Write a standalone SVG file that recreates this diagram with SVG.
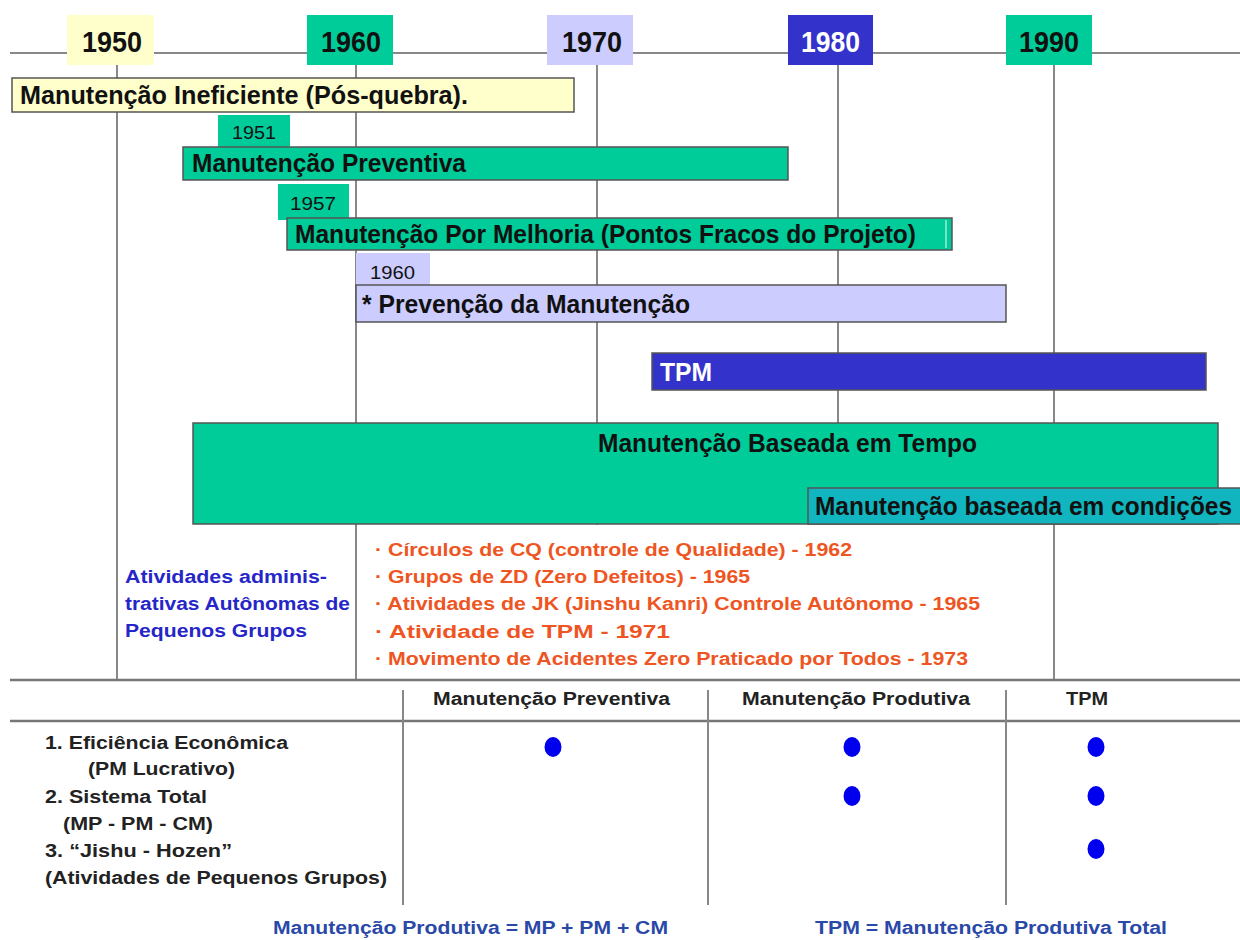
<svg xmlns="http://www.w3.org/2000/svg" width="1240" height="940" viewBox="0 0 1240 940">
  <style>
    text { font-family: "Liberation Sans", Arial, sans-serif; }
    .yr { font-size: 29px; font-weight: bold; fill: #111; }
    .bar { stroke: #555; stroke-width: 1.5; }
    .lbl { font-size: 25px; font-weight: bold; fill: #111; }
    .tab { font-size: 18px; fill: #111; }
    .grid { stroke: #888; stroke-width: 2; fill: none; }
    .rule { stroke: #777; stroke-width: 2.5; }
    .red { font-size: 18px; font-weight: bold; fill: #EE5522; }
    .blue { font-size: 18px; font-weight: bold; fill: #2626C8; }
    .tbl { font-size: 18px; font-weight: bold; fill: #222; }
    .foot { font-size: 18px; font-weight: bold; fill: #2A48A8; }
    .dot { fill: #0000EE; }
    .yellow { fill: #FFFFCC; }
    .green { fill: #00CC99; }
    .lilac { fill: #CCCCFF; }
    .navy { fill: #3333CC; }
    .cyan { fill: #11B5C0; }
  </style>

  <rect width="1240" height="940" fill="#fff"/>

  <!-- timeline axis and decade guide lines -->
  <g id="connectors">
    <line class="grid" x1="10" y1="53" x2="1240" y2="53"/>
    <line class="grid" x1="117" y1="65" x2="117" y2="680"/>
    <line class="grid" x1="356" y1="65" x2="356" y2="680"/>
    <line class="grid" x1="597" y1="65" x2="597" y2="525"/>
    <line class="grid" x1="838" y1="65" x2="838" y2="525"/>
    <line class="grid" x1="1054" y1="65" x2="1054" y2="680"/>
    <line class="rule" x1="10" y1="680" x2="1240" y2="680"/>
    <line class="rule" x1="10" y1="721" x2="1240" y2="721"/>
    <line class="grid" x1="403" y1="690" x2="403" y2="905"/>
    <line class="grid" x1="708" y1="690" x2="708" y2="905"/>
    <line class="grid" x1="1006" y1="690" x2="1006" y2="905"/>
  </g>

  <!-- decade markers -->
  <g id="y1950"><rect class="yellow" x="67" y="15" width="87" height="50"/><text class="yr" x="82" y="52" textLength="60" lengthAdjust="spacingAndGlyphs">1950</text></g>
  <g id="y1960"><rect class="green" x="307" y="15" width="86" height="50"/><text class="yr" x="321" y="52" textLength="60" lengthAdjust="spacingAndGlyphs">1960</text></g>
  <g id="y1970"><rect class="lilac" x="547" y="15" width="86" height="50"/><text class="yr" x="562" y="52" textLength="60" lengthAdjust="spacingAndGlyphs">1970</text></g>
  <g id="y1980"><rect class="navy" x="788" y="15" width="85" height="50"/><text class="yr" x="801" y="52" style="fill:#fff" textLength="59" lengthAdjust="spacingAndGlyphs">1980</text></g>
  <g id="y1990"><rect class="green" x="1006" y="15" width="86" height="50"/><text class="yr" x="1019" y="52" textLength="60" lengthAdjust="spacingAndGlyphs">1990</text></g>

  <!-- maintenance eras -->
  <g id="ineficiente">
    <rect class="bar yellow" x="12" y="78" width="562" height="34"/>
    <text class="lbl" x="20" y="104" textLength="448" lengthAdjust="spacingAndGlyphs">Manutenção Ineficiente (Pós-quebra).</text>
  </g>

  <g id="preventiva">
    <rect class="green" x="218" y="115" width="72" height="34"/>
    <text class="tab" x="232" y="139" textLength="44" lengthAdjust="spacingAndGlyphs">1951</text>
    <rect class="bar green" x="183" y="147" width="605" height="33"/>
    <text class="lbl" x="192" y="172" textLength="274" lengthAdjust="spacingAndGlyphs">Manutenção Preventiva</text>
  </g>

  <g id="melhoria">
    <rect class="green" x="278" y="184" width="71" height="36"/>
    <text class="tab" x="290" y="210" textLength="46" lengthAdjust="spacingAndGlyphs">1957</text>
    <rect class="bar green" x="287" y="218" width="665" height="32"/>
    <line x1="946" y1="220" x2="946" y2="248" stroke="#E8FFF6" stroke-width="1"/>
    <text class="lbl" x="295" y="243" textLength="621" lengthAdjust="spacingAndGlyphs">Manutenção Por Melhoria (Pontos Fracos do Projeto)</text>
  </g>

  <g id="prevencao">
    <rect class="lilac" x="356" y="253" width="74" height="34"/>
    <text class="tab" x="370" y="279" textLength="45" lengthAdjust="spacingAndGlyphs">1960</text>
    <rect class="bar lilac" x="356" y="285" width="650" height="37"/>
    <text class="lbl" x="362" y="313" textLength="328" lengthAdjust="spacingAndGlyphs">* Prevenção da Manutenção</text>
  </g>

  <g id="tpm">
    <rect class="bar navy" x="652" y="353" width="554" height="37"/>
    <text class="lbl" x="660" y="381" style="fill:#fff" textLength="52" lengthAdjust="spacingAndGlyphs">TPM</text>
  </g>

  <g id="tempo">
    <rect class="bar green" x="193" y="423" width="1025" height="101"/>
    <text class="lbl" x="598" y="452" textLength="379" lengthAdjust="spacingAndGlyphs">Manutenção Baseada em Tempo</text>
  </g>

  <g id="condicoes">
    <rect class="bar cyan" x="808" y="488" width="440" height="36"/>
    <text class="lbl" x="815" y="515" textLength="417" lengthAdjust="spacingAndGlyphs">Manutenção baseada em condições</text>
  </g>

  <!-- small-group activities -->
  <g id="atividades">
    <rect x="362" y="530" width="640" height="145" fill="#fff"/>
    <text class="blue" x="125" y="583" textLength="202" lengthAdjust="spacingAndGlyphs">Atividades adminis-</text>
    <text class="blue" x="125" y="610" textLength="225" lengthAdjust="spacingAndGlyphs">trativas Autônomas de</text>
    <text class="blue" x="125" y="637" textLength="182" lengthAdjust="spacingAndGlyphs">Pequenos Grupos</text>
  </g>

  <g id="marcos">
    <text class="red" x="375" y="556" textLength="477" lengthAdjust="spacingAndGlyphs">· Círculos de CQ (controle de Qualidade) - 1962</text>
    <text class="red" x="375" y="583" textLength="375" lengthAdjust="spacingAndGlyphs">· Grupos de ZD (Zero Defeitos) - 1965</text>
    <text class="red" x="375" y="610" textLength="605" lengthAdjust="spacingAndGlyphs">· Atividades de JK (Jinshu Kanri) Controle Autônomo - 1965</text>
    <text class="red" x="375" y="638" textLength="295" lengthAdjust="spacingAndGlyphs">· Atividade de TPM - 1971</text>
    <text class="red" x="375" y="665" textLength="593" lengthAdjust="spacingAndGlyphs">· Movimento de Acidentes Zero Praticado por Todos - 1973</text>
  </g>

  <!-- comparison table -->
  <g id="cabecalho">
    <text class="tbl" x="433" y="705" textLength="237" lengthAdjust="spacingAndGlyphs">Manutenção Preventiva</text>
    <text class="tbl" x="742" y="705" textLength="228" lengthAdjust="spacingAndGlyphs">Manutenção Produtiva</text>
    <text class="tbl" x="1066" y="705" textLength="42" lengthAdjust="spacingAndGlyphs">TPM</text>
  </g>

  <g id="criterios">
    <text class="tbl" x="45" y="749" textLength="243" lengthAdjust="spacingAndGlyphs">1. Eficiência Econômica</text>
    <text class="tbl" x="88" y="775" textLength="147" lengthAdjust="spacingAndGlyphs">(PM Lucrativo)</text>
    <text class="tbl" x="45" y="803" textLength="162" lengthAdjust="spacingAndGlyphs">2. Sistema Total</text>
    <text class="tbl" x="63" y="830" textLength="150" lengthAdjust="spacingAndGlyphs">(MP - PM - CM)</text>
    <text class="tbl" x="45" y="857" textLength="187" lengthAdjust="spacingAndGlyphs">3. “Jishu - Hozen”</text>
    <text class="tbl" x="45" y="884" textLength="342" lengthAdjust="spacingAndGlyphs">(Atividades de Pequenos Grupos)</text>
  </g>

  <g id="marcas">
    <ellipse class="dot" cx="553" cy="747" rx="8.5" ry="10"/>
    <ellipse class="dot" cx="852" cy="747" rx="8.5" ry="10"/>
    <ellipse class="dot" cx="852" cy="796" rx="8.5" ry="10"/>
    <ellipse class="dot" cx="1096" cy="747" rx="8.5" ry="10"/>
    <ellipse class="dot" cx="1096" cy="796" rx="8.5" ry="10"/>
    <ellipse class="dot" cx="1096" cy="849" rx="8.5" ry="10"/>
  </g>

  <g id="legenda">
    <text class="foot" x="273" y="934" textLength="395" lengthAdjust="spacingAndGlyphs">Manutenção Produtiva = MP + PM + CM</text>
    <text class="foot" x="815" y="934" textLength="352" lengthAdjust="spacingAndGlyphs">TPM = Manutenção Produtiva Total</text>
  </g>
</svg>
